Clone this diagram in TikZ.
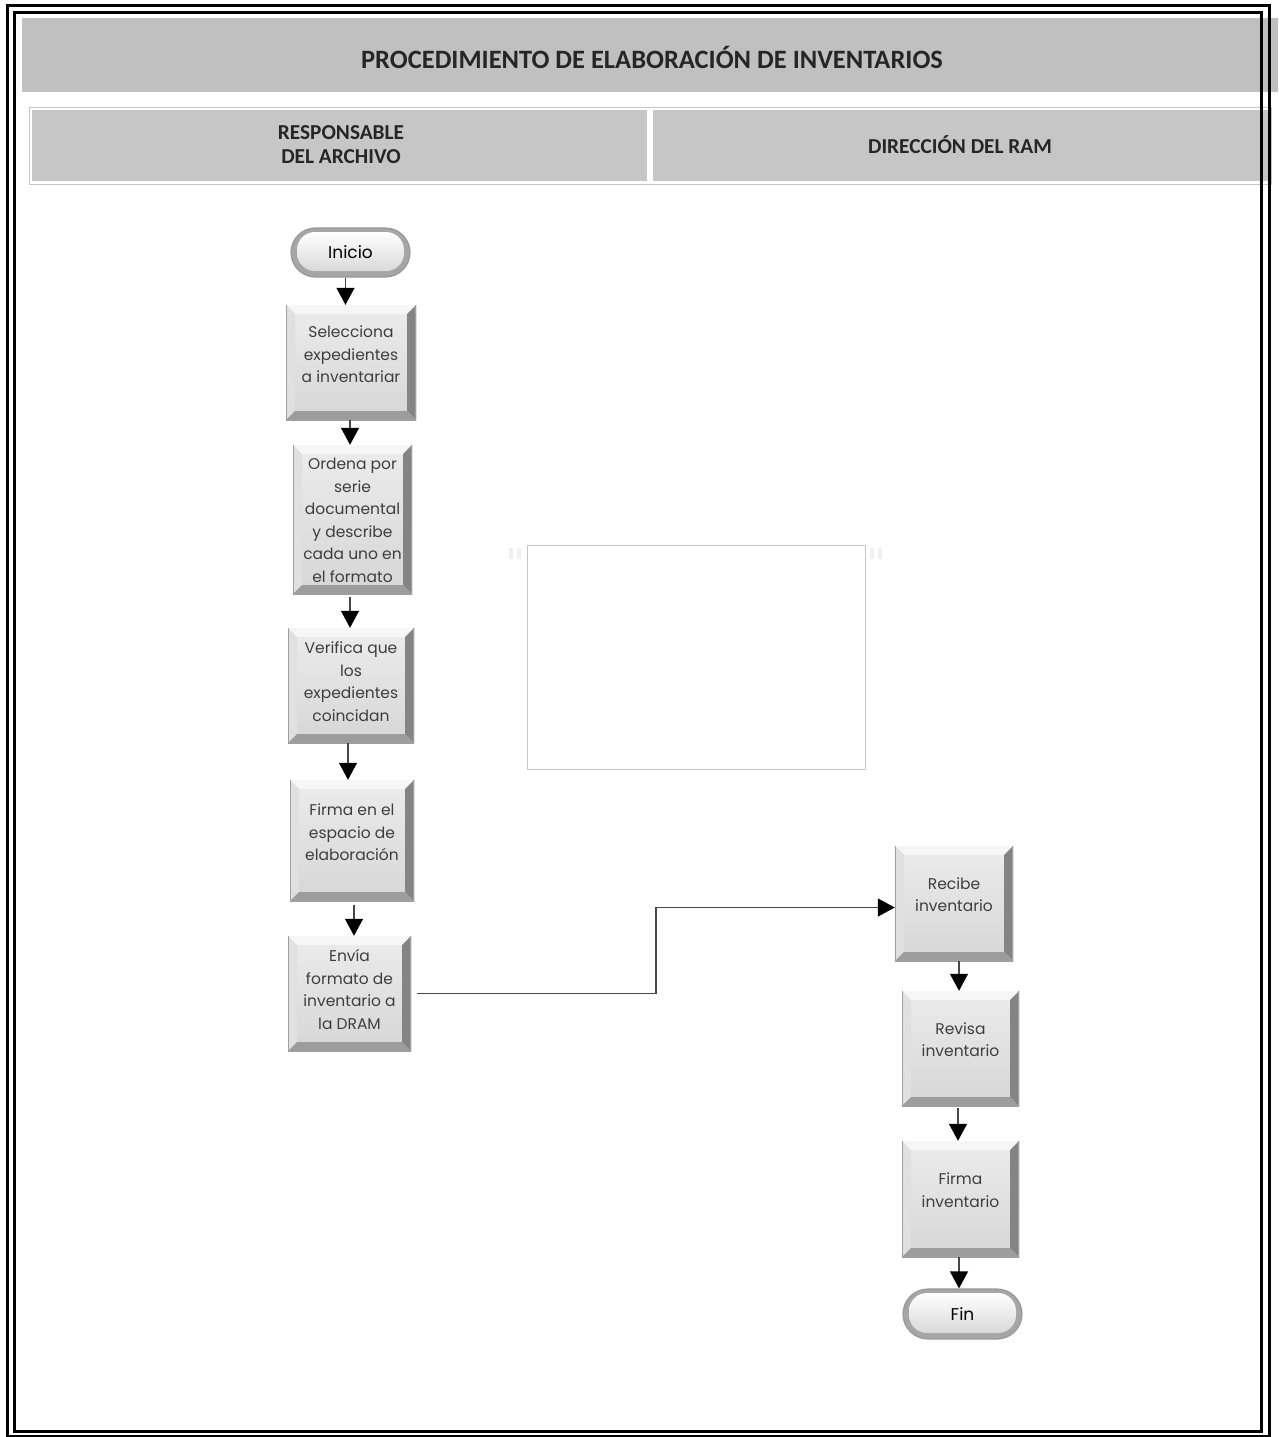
\documentclass[tikz,border=0pt]{standalone}
\usepackage{fontspec}
\setmainfont{Poppins}
\newfontfamily\headfont{Carlito}
\usetikzlibrary{arrows.meta,shapes.misc,calc}

\definecolor{bandgray}{RGB}{192,192,192}
\definecolor{hdrgray}{RGB}{198,198,198}
\definecolor{txtgray}{RGB}{62,62,62}
\definecolor{linegray}{RGB}{70,70,70}
\definecolor{boxtop}{RGB}{236,236,236}
\definecolor{boxbot}{RGB}{214,214,214}
\definecolor{bevlight}{RGB}{246,246,246}
\definecolor{bevleft}{RGB}{224,224,224}
\definecolor{bevright}{RGB}{132,132,132}
\definecolor{bevbottom}{RGB}{156,156,156}

\tikzset{
  % raised, bevelled process box
  procbox/.style={
    rectangle, inner sep=0pt, draw=none,
    path picture={
      \path (path picture bounding box.south west) coordinate (pp-sw)
            (path picture bounding box.north east) coordinate (pp-ne)
            (path picture bounding box.north west) coordinate (pp-nw)
            (path picture bounding box.south east) coordinate (pp-se);
      \shade[top color=boxtop, bottom color=boxbot] (pp-sw) rectangle (pp-ne);
      \fill[bevlight] (pp-nw) -- (pp-ne) -- ([shift={(-9pt,-9pt)}]pp-ne)
                      -- ([shift={(9pt,-9pt)}]pp-nw) -- cycle;
      \fill[bevleft] (pp-nw) -- ([shift={(9pt,-9pt)}]pp-nw)
                      -- ([shift={(9pt,9pt)}]pp-sw) -- (pp-sw) -- cycle;
      \fill[bevright] (pp-ne) -- ([shift={(-9pt,-9pt)}]pp-ne)
                      -- ([shift={(-9pt,9pt)}]pp-se) -- (pp-se) -- cycle;
      \fill[bevbottom] (pp-sw) -- ([shift={(9pt,9pt)}]pp-sw)
                      -- ([shift={(-9pt,9pt)}]pp-se) -- (pp-se) -- cycle;
      \draw[line width=2pt, gray!75] (pp-nw) -- (pp-sw) -- (pp-se) -- (pp-ne);
    }},
  boxtext/.style={font=\fontsize{15.5}{22.5}\selectfont, text=txtgray,
                  align=center, inner sep=0pt},
  % rounded start / end terminal
  pill/.style={
    rounded rectangle, inner sep=0pt, draw=gray!80, line width=1.2pt,
    fill=gray!70, font=\fontsize{17}{20}\selectfont, text=black,
    path picture={
      \path (path picture bounding box.south west) coordinate (pq-sw)
            (path picture bounding box.north east) coordinate (pq-ne);
      \shade[top color=white, bottom color=gray!30, rounded corners=18pt]
        ([shift={(6pt,6pt)}]pq-sw) rectangle ([shift={(-6pt,-4pt)}]pq-ne);
    }},
  arr/.style={draw=linegray, line width=1.3pt,
              -{Triangle[width=18pt,length=17pt,color=black]}},
}

\begin{document}
\begin{tikzpicture}[x=1pt,y=-1pt]
\useasboundingbox (0,0) rectangle (1278,1437);
\fill[white] (0,0) rectangle (1278,1437);

% title band
\fill[bandgray] (22,18) rectangle (1278,92);
\node[font=\headfont\bfseries\fontsize{26.5}{30}\selectfont, text=black!85] (title)
  at (652,57) {PROCEDIMIENTO DE ELABORACIÓN DE INVENTARIOS};

% lane headers
\draw[gray!45, line width=1pt, fill=white] (29,107) rectangle (1271,184);
\fill[hdrgray] (32,110) rectangle (647,181);
\fill[hdrgray] (653,110) rectangle (1268,181);
\node[font=\headfont\bfseries\fontsize{21.3}{24}\selectfont, align=center, text=black!85]
  (laneA) at (341,145) {RESPONSABLE\\DEL ARCHIVO};
\node[font=\headfont\bfseries\fontsize{21.3}{24}\selectfont, text=black!85]
  (laneB) at (960,145) {DIRECCIÓN DEL RAM};

% double frame
\draw[line width=3pt] (7,6) rectangle (1269,1436);
\draw[line width=3pt] (14,13) rectangle (1261,1431);

% faint frame in the centre
\draw[gray!45, line width=0.8pt] (527,545) rectangle (865,769);
\fill[gray!12] (509,548) rectangle (513,559);
\fill[gray!12] (517,548) rectangle (521,559);
\fill[gray!12] (870,548) rectangle (874,559);
\fill[gray!12] (878,548) rectangle (882,559);

% terminals
\node[pill, minimum width=119pt, minimum height=49pt] (ini) at (350.5,252.5) {Inicio};
\node[pill, minimum width=119pt, minimum height=50pt] (fin) at (962.5,1314) {Fin};

% process boxes, archive lane
\node[procbox, minimum width=130pt, minimum height=115pt,
  label={[boxtext, yshift=8pt]center:Selecciona\\expedientes\\a inventariar}]
  (sel) at (351,362.5) {};
\node[procbox, minimum width=119pt, minimum height=149pt,
  label={[boxtext, yshift=-1pt]center:Ordena por\\serie\\documental\\y describe\\cada uno en\\el formato}]
  (ord) at (352.5,519.5) {};
\node[procbox, minimum width=126pt, minimum height=115pt,
  label={[boxtext, yshift=4pt]center:Verifica que\\los\\expedientes\\coincidan}]
  (ver) at (351,685.5) {};
\node[procbox, minimum width=124pt, minimum height=121pt,
  label={[boxtext, yshift=8pt]center:Firma en el\\espacio de\\elaboración}]
  (fir) at (352,840.5) {};
\node[procbox, minimum width=123pt, minimum height=115pt,
  label={[boxtext, yshift=4pt]center:Envía\\formato de\\inventario a\\la DRAM}]
  (env) at (349.5,993.5) {};

% process boxes, RAM lane
\node[procbox, minimum width=118pt, minimum height=115pt,
  label={[boxtext, yshift=9pt]center:Recibe\\inventario}]
  (rec) at (954,903.5) {};
\node[procbox, minimum width=117pt, minimum height=115pt,
  label={[boxtext, yshift=9pt]center:Revisa\\inventario}]
  (rev) at (960.5,1048.5) {};
\node[procbox, minimum width=117pt, minimum height=116pt,
  label={[boxtext, yshift=9pt]center:Firma\\inventario}]
  (fii) at (960.5,1199) {};

% connectors
\draw[arr] ([xshift=-5pt]ini.south) -- ([xshift=-5pt]ini.south |- sel.north);
\draw[arr] ([xshift=-1pt]sel.south) -- ([xshift=-1pt]sel.south |- ord.north);
\draw[arr] ([xshift=-2.5pt,yshift=-3pt]ord.south) -- ([xshift=-2.5pt]ord.south |- ver.north);
\draw[arr] ([xshift=-3pt]ver.south) -- ([xshift=-3pt]ver.south |- fir.north);
\draw[arr] ([xshift=2pt,yshift=-4pt]fir.south) -- ([xshift=2pt]fir.south |- env.north);
\coordinate (bend) at (656,950);
\coordinate (envout) at ([xshift=6pt]env.east);
\coordinate (recin) at ([yshift=-4pt]rec.west);
\draw[arr] (envout) -- (envout -| bend) -- (bend |- recin) -- (recin);
\draw[arr] ([xshift=5pt]rec.south) -- ([xshift=5pt]rec.south |- rev.north);
\draw[arr] ([xshift=-2.5pt,yshift=-2pt]rev.south) -- ([xshift=-2.5pt]rev.south |- fii.north);
\draw[arr] ([xshift=-1.5pt]fii.south) -- ([xshift=-1.5pt]fii.south |- fin.north);
\end{tikzpicture}
\end{document}
